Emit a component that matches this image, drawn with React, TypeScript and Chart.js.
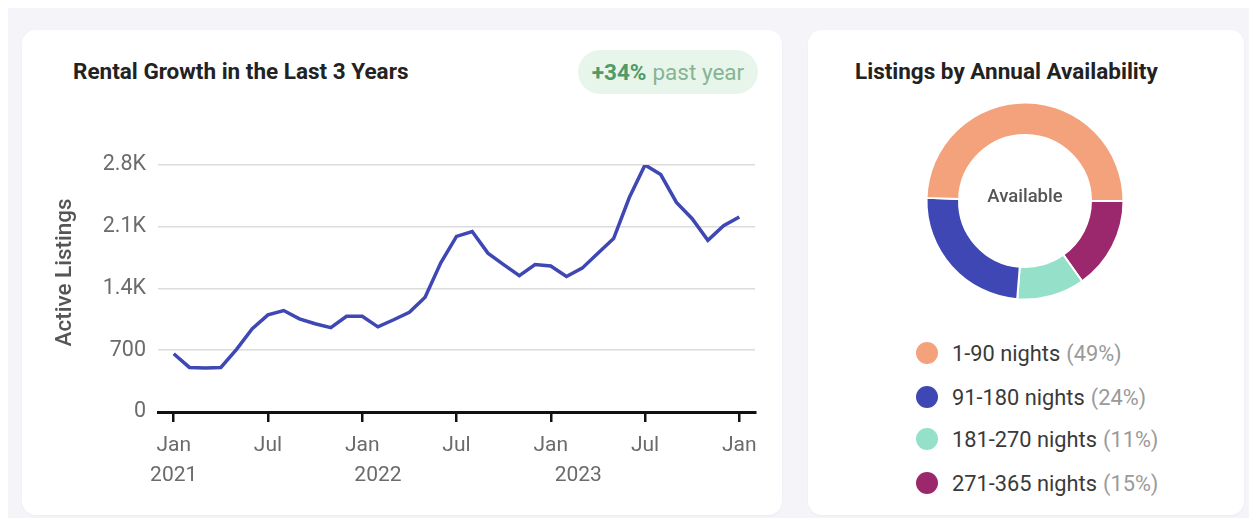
import React, { useEffect, useRef } from "react";
import { Chart, registerables } from "chart.js";

Chart.register(...registerables);

// ---------- Data ----------
const months = [
  "2021-01", "2021-02", "2021-03", "2021-04", "2021-05", "2021-06",
  "2021-07", "2021-08", "2021-09", "2021-10", "2021-11", "2021-12",
  "2022-01", "2022-02", "2022-03", "2022-04", "2022-05", "2022-06",
  "2022-07", "2022-08", "2022-09", "2022-10", "2022-11", "2022-12",
  "2023-01", "2023-02", "2023-03", "2023-04", "2023-05", "2023-06",
  "2023-07", "2023-08", "2023-09", "2023-10", "2023-11", "2023-12",
  "2024-01",
];
const activeListings = [
  660, 505, 500, 505, 710, 945, 1100, 1150, 1055, 1000, 955, 1085,
  1085, 965, 1045, 1130, 1300, 1690, 1990, 2045, 1800, 1670, 1545, 1670,
  1655, 1535, 1630, 1800, 1965, 2430, 2800, 2690, 2375, 2190, 1945, 2110,
  2210,
];
const xTickIdx = [0, 6, 12, 18, 24, 30, 36];
const xTickLabels = ["Jan", "Jul", "Jan", "Jul", "Jan", "Jul", "Jan"];
const yearLabels = ["2021", "2022", "2023"];
const yearLabelAt = [0, 13, 25.75];
const yTickValues = [0, 700, 1400, 2100, 2800];
const yTickLabels = ["0", "700", "1.4K", "2.1K", "2.8K"];

const availCategories = ["1-90 nights", "91-180 nights", "181-270 nights", "271-365 nights"];
const availShares = [49, 24, 11, 15];
const availColors = ["#F3A27C", "#3E47B3", "#95E0C8", "#9B286D"];

const LINE_COLOR = "#3E47B3";
const FONT = "Roboto, 'Noto Sans', sans-serif";

const lineExtras = {
  id: "lineExtras",
  afterDraw(chart: any) {
    const { ctx, chartArea, scales } = chart;
    const x = scales.x;
    ctx.save();
    ctx.font = `21px ${FONT}`;
    ctx.fillStyle = "#6b6b6b";
    ctx.textAlign = "center";
    ctx.textBaseline = "middle";
    yearLabels.forEach((t, i) => {
      ctx.fillText(t, x.getPixelForValue(yearLabelAt[i]), chartArea.bottom + 64);
    });
    ctx.translate(chartArea.left - 93, (chartArea.top + chartArea.bottom) / 2 - 16);
    ctx.rotate(-Math.PI / 2);
    ctx.font = `500 22.5px ${FONT}`;
    ctx.fillStyle = "#555";
    ctx.fillText("Active Listings", 0, 0);
    ctx.restore();
  },
};

const donutCenter = {
  id: "donutCenter",
  afterDraw(chart: any) {
    const { ctx, chartArea } = chart;
    const cx = (chartArea.left + chartArea.right) / 2;
    const cy = (chartArea.top + chartArea.bottom) / 2;
    ctx.save();
    ctx.font = `500 18.5px ${FONT}`;
    ctx.fillStyle = "#555";
    ctx.textAlign = "center";
    ctx.textBaseline = "middle";
    ctx.fillText("Available", cx, cy - 4);
    ctx.restore();
  },
};

function LineChart() {
  const ref = useRef<HTMLCanvasElement | null>(null);
  useEffect(() => {
    if (!ref.current) return;
    const chart = new Chart(ref.current, {
      type: "line",
      data: {
        labels: months,
        datasets: [
          {
            label: "Active Listings",
            data: activeListings.map((v, i) => ({ x: i, y: v })),
            borderColor: LINE_COLOR,
            borderWidth: 3.5,
            pointRadius: 0,
            tension: 0,
            fill: false,
          },
        ],
      },
      options: {
        animation: false,
        responsive: false,
        maintainAspectRatio: false,
        layout: { padding: { left: 0, right: 15, top: 20, bottom: 0 } },
        plugins: { legend: { display: false }, tooltip: { enabled: false } },
        scales: {
          x: {
            type: "linear",
            min: -1,
            max: 37,
            afterBuildTicks: (s: any) => {
              s.ticks = xTickIdx.map((v) => ({ value: v }));
            },
            afterFit: (s: any) => {
              s.height = 88;
            },
            ticks: {
              autoSkip: false,
              maxRotation: 0,
              padding: 11,
              color: "#6b6b6b",
              font: { family: FONT, size: 21 },
              callback: (v: any) => {
                const k = xTickIdx.indexOf(Number(v));
                return k >= 0 ? xTickLabels[k] : "";
              },
            },
            grid: {
              display: true,
              drawOnChartArea: false,
              drawTicks: true,
              tickLength: 10,
              color: "#111",
              lineWidth: 2.5,
            },
            border: { display: true, color: "#111", width: 3 },
          },
          y: {
            min: 0,
            max: 2800,
            afterBuildTicks: (s: any) => {
              s.ticks = yTickValues.map((v) => ({ value: v }));
            },
            afterFit: (s: any) => {
              s.width = 118;
            },
            ticks: {
              padding: 12,
              color: "#6b6b6b",
              font: { family: FONT, size: 21.5 },
              callback: (v: any) => {
                const k = yTickValues.indexOf(Number(v));
                return k >= 0 ? yTickLabels[k] : "";
              },
            },
            grid: { color: "#dcdcdc", lineWidth: 1.5, drawTicks: false },
            border: { display: false },
          },
        },
      },
      plugins: [lineExtras],
    } as any);
    return () => chart.destroy();
  }, []);
  return <canvas ref={ref} width={730} height={360} style={{ position: "absolute", left: 18, top: 110, width: 730, height: 360 }} />;
}

function DonutChart() {
  const ref = useRef<HTMLCanvasElement | null>(null);
  useEffect(() => {
    if (!ref.current) return;
    const order = [3, 2, 1, 0];
    const chart = new Chart(ref.current, {
      type: "doughnut",
      data: {
        labels: order.map((i) => availCategories[i]),
        datasets: [
          {
            data: order.map((i) => availShares[i]),
            backgroundColor: order.map((i) => availColors[i]),
            borderColor: "#ffffff",
            borderWidth: 2,
          },
        ],
      },
      options: {
        animation: false,
        responsive: false,
        maintainAspectRatio: false,
        rotation: 90,
        radius: 98.5,
        cutout: 73,
        layout: { padding: 0 },
        plugins: { legend: { display: false }, tooltip: { enabled: false } },
      },
      plugins: [donutCenter],
    } as any);
    return () => chart.destroy();
  }, []);
  return <canvas ref={ref} width={220} height={220} style={{ position: "absolute", left: 107, top: 61, width: 220, height: 220 }} />;
}

const cardStyle: React.CSSProperties = {
  position: "absolute",
  top: 22,
  height: 485,
  background: "#ffffff",
  borderRadius: 14,
  boxShadow: "0 1px 3px rgba(30,30,80,0.04)",
};

const titleStyle: React.CSSProperties = {
  position: "absolute",
  top: 28,
  lineHeight: "26px",
  fontFamily: FONT,
  fontWeight: 700,
  fontSize: 22.5,
  color: "#222",
  whiteSpace: "nowrap",
};

export default function App() {
  return (
    <div style={{ position: "fixed", left: 8, top: 8, right: 0, bottom: 0, background: "#f4f4f9", fontFamily: FONT }}>
      <div style={{ ...cardStyle, left: 14, width: 760 }}>
        <div style={{ ...titleStyle, left: 51 }}>Rental Growth in the Last 3 Years</div>
        <div
          style={{
            position: "absolute",
            left: 556,
            top: 20,
            width: 180,
            height: 44,
            borderRadius: 22,
            background: "#e7f5eb",
            display: "flex",
            alignItems: "center",
            justifyContent: "center",
            fontSize: 22.5,
            whiteSpace: "nowrap",
          }}
        >
          <span style={{ fontWeight: 700, color: "#4f9a68" }}>+34%</span>
          <span style={{ color: "#86b494", marginLeft: 6 }}>past year</span>
        </div>
        <LineChart />
      </div>
      <div style={{ ...cardStyle, left: 800, width: 436 }}>
        <div style={{ ...titleStyle, left: 47 }}>Listings by Annual Availability</div>
        <DonutChart />
        {availCategories.map((c, i) => (
          <div
            key={c}
            style={{
              position: "absolute",
              left: 108,
              top: [323, 367, 409, 453][i] - 13,
              height: 26,
              display: "flex",
              alignItems: "center",
              whiteSpace: "nowrap",
              fontSize: 21.8,
            }}
          >
            <span style={{ width: 22, height: 22, borderRadius: 11, background: availColors[i], display: "inline-block" }} />
            <span style={{ marginLeft: 14, color: "#3a3a3a" }}>{c}</span>
            <span style={{ marginLeft: 6, color: "#9a9a9a" }}>({availShares[i]}%)</span>
          </div>
        ))}
      </div>
    </div>
  );
}
